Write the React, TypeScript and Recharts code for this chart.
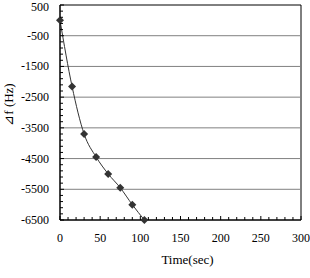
import React from 'react';
import { LineChart, Line, XAxis, YAxis, ReferenceLine, ReferenceArea, Label } from 'recharts';

// frequency shift vs time
const TIME = [0, 15, 30, 45, 60, 75, 90, 105];
const DELTA_F = [0, -2150, -3700, -4450, -5000, -5450, -6000, -6500];

const X_LABELS = [0, 50, 100, 150, 200, 250, 300];
const Y_LABELS = [500, -500, -1500, -2500, -3500, -4500, -5500, -6500];
const GRID_LINES = [-500, -1500, -2500, -3500, -4500, -5500];

// minor tick marks (decoration only)
const X_MINOR = Array.from({ length: 31 }, (_, i) => i * 10);
const Y_MINOR = Array.from({ length: 36 }, (_, i) => 500 - i * 200);

const data = TIME.map((t, i) => ({ t, df: DELTA_F[i] }));

const FONT = '"Liberation Serif", "Times New Roman", serif';
const GAP = 10;

const XTick = ({ x, y, payload }: any) => {
  const v = payload.value;
  const major = X_LABELS.includes(v);
  const axisY = y - GAP;
  return (
    <g>
      <line x1={x} x2={x} y1={axisY} y2={axisY - (major ? 4 : 3)} stroke="#000" />
      {major && (
        <text x={x} y={axisY + 18} textAnchor="middle" dominantBaseline="central"
          fontFamily={FONT} fontSize={12} fill="#000">
          {v}
        </text>
      )}
    </g>
  );
};

const YTick = ({ x, y, payload }: any) => {
  const v = payload.value;
  const major = Y_LABELS.includes(v);
  const axisX = x + GAP;
  // keep the top label inside the page
  const ty = Math.max(y, 6.5);
  return (
    <g>
      <line x1={axisX} x2={axisX + (major ? 4 : 3)} y1={y} y2={y} stroke="#000" />
      {major && (
        <text x={axisX - 11} y={ty} textAnchor="end" dominantBaseline="central"
          fontFamily={FONT} fontSize={12} fill="#000">
          {v}
        </text>
      )}
    </g>
  );
};

const Diamond = ({ cx, cy, index }: any) => (
  <polygon
    key={`dot-${index}`}
    points={`${cx},${cy - 4} ${cx + 4},${cy} ${cx},${cy + 4} ${cx - 4},${cy}`}
    fill="#333"
  />
);

export default function App() {
  return (
    <div style={{ position: 'absolute', left: 0, top: 0, background: '#fff' }}>
      <LineChart width={310} height={278} data={data} margin={{ top: 5, right: 9, bottom: 0, left: 0 }}>
        <XAxis
          type="number"
          dataKey="t"
          domain={[0, 300]}
          ticks={X_MINOR}
          interval={0}
          height={58}
          tickSize={0}
          tickMargin={GAP}
          tickLine={false}
          axisLine={{ stroke: '#000' }}
          tick={<XTick />}
        >
          <Label
            content={({ viewBox }: any) => (
              <text x={viewBox.x + viewBox.width / 2 + 7} y={viewBox.y + 44} textAnchor="middle"
                fontFamily={FONT} fontSize={13} fill="#000">
                Time(sec)
              </text>
            )}
          />
        </XAxis>
        <YAxis
          type="number"
          domain={[-6500, 500]}
          ticks={Y_MINOR}
          interval={0}
          width={60}
          tickSize={0}
          tickMargin={GAP}
          tickLine={false}
          axisLine={{ stroke: '#000' }}
          tick={<YTick />}
        >
          <Label
            content={({ viewBox }: any) => {
              const cx = 8;
              const cy = viewBox.y + viewBox.height / 2 - 8;
              return (
                <text x={cx} y={cy} textAnchor="middle" dominantBaseline="central"
                  transform={`rotate(-90, ${cx}, ${cy})`}
                  fontFamily={FONT} fontSize={13} fill="#000">
                  ⊿f (Hz)
                </text>
              );
            }}
          />
        </YAxis>
        {GRID_LINES.map((v) => (
          <ReferenceLine key={v} y={v} stroke="#808080" strokeWidth={1} />
        ))}
        <ReferenceArea x1={0} x2={300} y1={-6500} y2={500} fill="none" stroke="#000" strokeWidth={1} />
        <Line
          type="monotone"
          dataKey="df"
          stroke="#333"
          strokeWidth={1}
          dot={<Diamond />}
          activeDot={false}
          isAnimationActive={false}
        />
      </LineChart>
    </div>
  );
}
